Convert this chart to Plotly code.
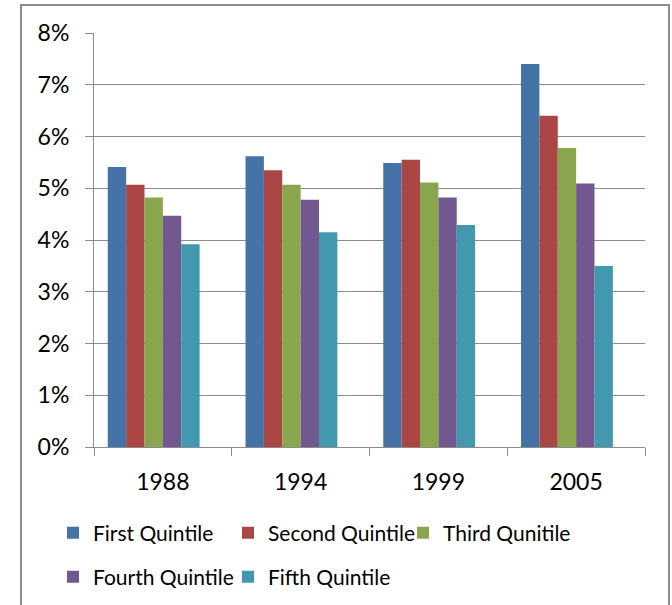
import plotly.graph_objects as go

# Share of income by quintile, in percent
years = ["1988", "1994", "1999", "2005"]
first_quintile = [5.41, 5.62, 5.49, 7.40]
second_quintile = [5.07, 5.35, 5.55, 6.40]
third_quintile = [4.82, 5.07, 5.11, 5.78]
fourth_quintile = [4.47, 4.78, 4.82, 5.09]
fifth_quintile = [3.92, 4.15, 4.29, 3.50]

series_names = ["First Quintile", "Second Quintile", "Third Qunitile",
                "Fourth Quintile", "Fifth Quintile"]
series_values = [first_quintile, second_quintile, third_quintile,
                 fourth_quintile, fifth_quintile]
colors = ["#4572A7", "#AA4643", "#89A54E", "#71588F", "#4198AF"]
y_ticks = [0, 1, 2, 3, 4, 5, 6, 7, 8]
y_tick_labels = [f"{v}%" for v in y_ticks]

FONT = "Lato"
W, H = 672, 605
L, R, T, B = 94, 27, 33, 158
pw, ph = W - L - R, H - T - B

# each category holds six equal slots; the last one stays empty
slots = 6
group_width = 0.8
bar_w = group_width / slots

fig = go.Figure()
for i, (name, vals, col) in enumerate(zip(series_names, series_values, colors)):
    fig.add_trace(go.Bar(
        x=years, y=vals, name=name,
        marker=dict(color=col, line=dict(width=0)),
        width=bar_w, offset=-group_width / 2 + i * bar_w,
        legend="legend" if i < 3 else "legend2",
    ))

def px_x(x):
    return (x - L) / pw

def px_y(y):
    return (H - B - y) / ph

legend_common = dict(
    orientation="h", xanchor="left", yanchor="middle",
    font=dict(family=FONT, size=21, color="#000000"),
    entrywidth=130, entrywidthmode="pixels",
    bgcolor="rgba(0,0,0,0)", borderwidth=0,
)

fig.update_layout(
    width=W, height=H,
    margin=dict(l=L, r=R, t=T, b=B, autoexpand=False),
    paper_bgcolor="#FFFFFF", plot_bgcolor="#FFFFFF",
    barmode="overlay",
    font=dict(family=FONT, size=23, color="#000000"),
    showlegend=True,
    legend=dict(x=px_x(53), y=px_y(533), **legend_common),
    legend2=dict(x=px_x(53), y=px_y(577), **legend_common),
    xaxis=dict(
        type="category", showgrid=False,
        showline=True, linecolor="#8C8C8C", linewidth=1,
        ticks="outside", tickson="boundaries", ticklen=8, tickcolor="#8C8C8C",
        ticklabelstandoff=14,
        tickfont=dict(family=FONT, size=23, color="#000000"),
    ),
    yaxis=dict(
        range=[0, 8], tickmode="array", tickvals=y_ticks, ticktext=y_tick_labels,
        showgrid=True, gridcolor="#8C8C8C", gridwidth=1,
        showline=True, linecolor="#8C8C8C", linewidth=1,
        ticks="outside", ticklen=8, tickcolor="#8C8C8C",
        ticklabelstandoff=11, zeroline=False,
        tickfont=dict(family=FONT, size=23, color="#000000"),
    ),
    shapes=[dict(
        type="rect", xref="paper", yref="paper",
        x0=px_x(21), x1=px_x(669), y0=px_y(H + 10), y1=px_y(5),
        line=dict(color="#8C8C8C", width=2), fillcolor="rgba(0,0,0,0)",
        layer="below",
    )],
)

fig.write_html("out.html")
